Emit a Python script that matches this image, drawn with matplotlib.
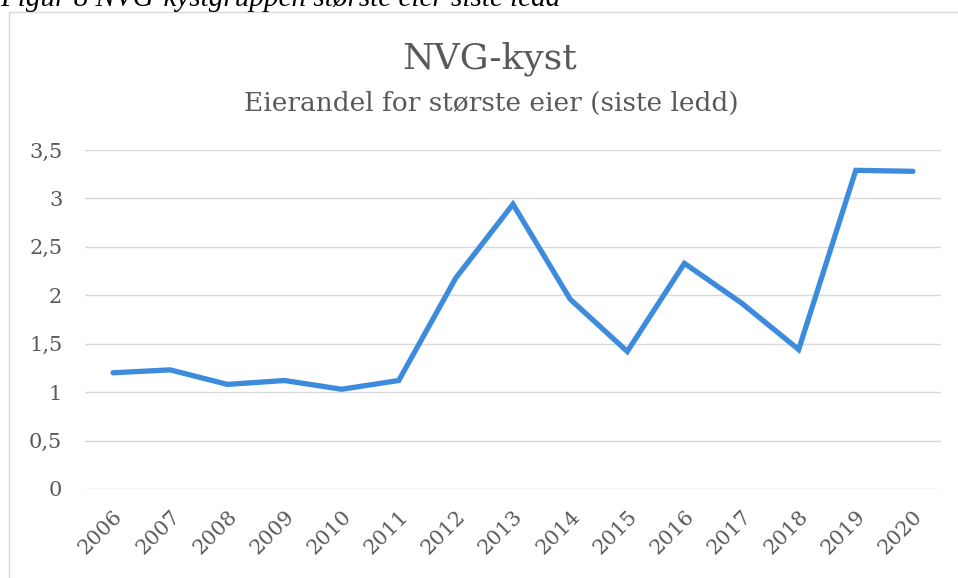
import matplotlib
matplotlib.use("Agg")
import matplotlib.pyplot as plt
from matplotlib.patches import Rectangle
import matplotlib.transforms as mtransforms

years = ["2006", "2007", "2008", "2009", "2010", "2011", "2012", "2013",
         "2014", "2015", "2016", "2017", "2018", "2019", "2020"]
values = [1.20, 1.23, 1.08, 1.12, 1.03, 1.12, 2.18, 2.94,
          1.96, 1.42, 2.33, 1.92, 1.44, 3.29, 3.28]
yticks = [0, 0.5, 1, 1.5, 2, 2.5, 3, 3.5]
ytick_labels = ["0", "0,5", "1", "1,5", "2", "2,5", "3", "3,5"]

title = "NVG-kyst"
subtitle = "Eierandel for største eier (siste ledd)"
caption = "Figur 8 NVG-kystgruppen største eier siste ledd"

W, H = 958, 578
fig = plt.figure(figsize=(W / 100, H / 100), dpi=100)
fig.patch.set_facecolor("white")

font = "DejaVu Serif"
tc = "#595959"

# chart area border
fig.patches.append(Rectangle((8.5 / W, -0.05), 1.1, 1 - 11.5 / H + 0.05,
                             transform=fig.transFigure, fill=False,
                             edgecolor="#d9d9d9", linewidth=1.0))

fig.text(0.0, 1 - 6 / H, caption, fontsize=21, style="italic",
         family="Liberation Serif", color="#000000", ha="left", va="baseline")

ax = fig.add_axes([84.5 / W, 1 - 489 / H, (941.5 - 84.5) / W, (489 - 150) / H])
x = list(range(len(years)))
ax.plot(x, values, color="#3c8bdc", linewidth=3.8, solid_capstyle="round",
        solid_joinstyle="miter", zorder=3)
ax.set_xlim(-0.5, len(years) - 0.5)
ax.set_ylim(0, 3.5)
ax.set_yticks(yticks)
ax.set_yticklabels(ytick_labels, family=font, fontsize=15, color=tc)
ax.set_xticks(x)
ax.set_xticklabels(years, family=font, fontsize=15, color=tc,
                   rotation=45, ha="right", rotation_mode="anchor")
offset = mtransforms.ScaledTranslation(3 / 100, 0, fig.dpi_scale_trans)
for lbl in ax.get_xticklabels():
    lbl.set_transform(lbl.get_transform() + offset)
ax.tick_params(axis="both", length=0)
ax.tick_params(axis="y", pad=16)
ax.tick_params(axis="x", pad=13)
ax.grid(axis="y", color="#d9d9d9", linewidth=1.0)
ax.set_axisbelow(True)
for s in ax.spines.values():
    s.set_visible(False)

fig.text(490 / W, 1 - 69 / H, title, fontsize=26, family=font, color=tc,
         ha="center", va="baseline")
fig.text(491 / W, 1 - 111 / H, subtitle, fontsize=19, family=font, color=tc,
         ha="center", va="baseline")

fig.savefig("out.png", dpi=100, facecolor="white")
